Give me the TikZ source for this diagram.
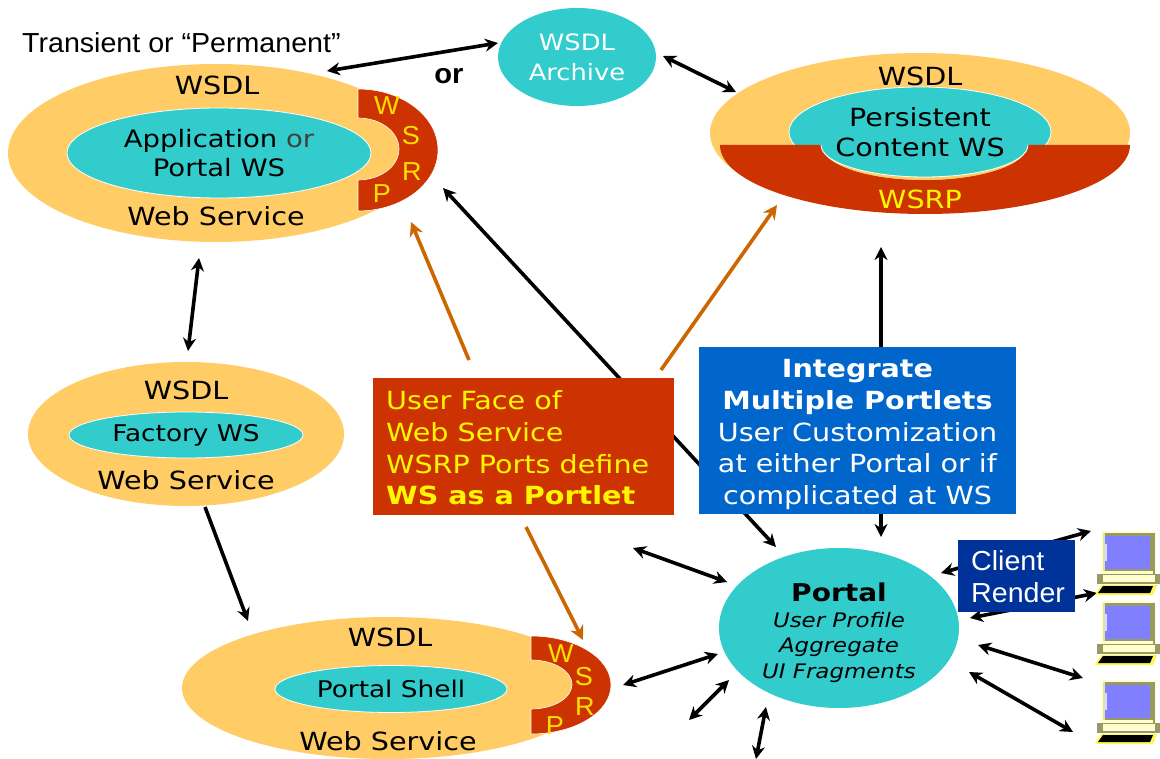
\documentclass[tikz,border=0pt]{standalone}
\usepackage{fontspec}
\setmainfont[FakeStretch=1.145]{DejaVu Sans}
\newfontfamily\arialf[FakeStretch=1.04]{Liberation Sans}
\usetikzlibrary{shapes.geometric,arrows.meta}
\definecolor{wsyellow}{HTML}{FFCC66}
\definecolor{wsteal}{HTML}{33CCCC}
\definecolor{wsred}{HTML}{CC3300}
\definecolor{wsorange}{HTML}{CC6600}
\definecolor{wsblue}{HTML}{0066CC}
\definecolor{wsnavy}{HTML}{003399}
\definecolor{wslett}{HTML}{FFF600}
\definecolor{wsthin}{HTML}{FFE000}
\definecolor{wsscreen}{HTML}{8080FF}
\definecolor{wscase}{HTML}{FFFFCC}
\definecolor{wsedge}{HTML}{999966}
\tikzset{
  x=1pt,y=-1pt,
  outerell/.style={ellipse,fill=wsyellow,inner sep=0pt,outer sep=0pt},
  innerell/.style={ellipse,fill=wsteal,draw=white,line width=0.8pt,inner sep=0pt,outer sep=0pt,align=center,font=\fontsize{24}{29}\selectfont},
  lab/.style={inner sep=0pt,align=center,font=\fontsize{25}{30}\selectfont},
  letter/.style={inner sep=0pt,text=wsthin,font=\arialf\fontsize{26}{28}\selectfont},
  both/.style={line width=3.6pt,{Stealth[length=13pt,width=13pt]}-{Stealth[length=13pt,width=13pt]}},
  one/.style={line width=3.6pt,-{Stealth[length=13pt,width=13pt]}},
  oarrow/.style={line width=3.6pt,wsorange,-{Stealth[length=14pt,width=14pt]}},
  port/.style={fill=wsred,draw=white,line width=0.6pt},
  pics/laptop/.style={code={
    \fill[wscase] (6,0) rectangle (61,45);
    \fill[wsedge] (8,2) rectangle (60,44);
    \fill[wscase!70!wsedge] (8,2) rectangle (10,40);
    \fill[wsscreen] (10,5) rectangle (55,38);
    \fill[white!70!wsscreen] (10,13) rectangle (12,30);
    \fill[wscase] (8,40) rectangle (58,44);
    \fill[wsedge] (2,43) rectangle (65,53);
    \fill[wscase] (8,44) rectangle (60,51);
    \fill[wsedge] (3,45) rectangle (7,49);
    \fill[wslett!70!white] (0,64) -- (6,54) -- (62,54) -- (58,64) -- cycle;
    \fill[black] (3,62) -- (8,55) -- (58,55) -- (55,62) -- cycle;
  }}
}
\begin{document}
\begin{tikzpicture}
\useasboundingbox (0,0) rectangle (1160,759);
\fill[white] (0,0) rectangle (1160,759);

% connector ends
\foreach \n/\xx/\yy in {
 a1/327/71,a2/498/43,b1/663/56,b2/736/92,c1/199/258,c2/188/351,d1/205/507,d2/248/621,
 e1/469/360,e2/411/222,f1/661/370,f2/777/205,g1/526/527,g2/583/640,
 h1/443/188,h2/776/547,i1/881/247,i2/881/537,j1/633/548,j2/727/582,
 k1/623/685,k2/718/654,l1/689/720,l2/729/680,m1/766/707,m2/756/759,
 n1/941/573,n2/1091/531,o1/970/618,o2/1097/593,p1/978/645,p2/1083/678,q1/969/672,q2/1073/732}
 {\coordinate (\n) at (\xx,\yy);}

% arrows that run behind boxes
\draw[both] (h1) -- (h2);
\draw[both] (i1) -- (i2);
\draw[both] (n1) -- (n2);
\draw[both] (o1) -- (o2);

% top-left web service
\node[outerell,minimum width=416pt,minimum height=178pt] (ws1) at (216,153) {};
\node[innerell,minimum width=304pt,minimum height=90pt] (app) at (219,153) {Application {\color{black!75}or}\\Portal WS};
\path[port] (358,89) arc[start angle=-90,end angle=90,x radius=80,y radius=61] -- (358,180) arc[start angle=90,end angle=-90,x radius=41,y radius=31] -- cycle;
\node[lab] (w1) at (217,85) {WSDL};
\node[lab] (s1) at (216,216) {Web Service};
\node[letter] (l1w) at (387,106) {W};
\node[letter] (l1s) at (411,136) {S};
\node[letter] (l1r) at (412,172) {R};
\node[letter] (l1p) at (382,194) {P};

% persistent
\node[outerell,minimum width=420pt,minimum height=160pt] (ws2) at (920,133) {};
\node[innerell,minimum width=262pt,minimum height=90pt] (pers) at (920,132) {};
\path[fill=wsred] (720,145) -- (821,145) arc[start angle=180,end angle=360,x radius=103.5,y radius=-35] -- (1130,145) arc[start angle=0,end angle=180,x radius=205,y radius=69] -- cycle;
\path[fill=wsyellow] (821,145) arc[start angle=180,end angle=360,x radius=103.5,y radius=-35] -- cycle;
\fill[wsteal,draw=white,line width=0.8pt] (821,145) arc[start angle=180,end angle=360,x radius=103.5,y radius=-32] ;
\fill[wsteal] (822,140) rectangle (1027,146);
\node[lab] (w2) at (920,76) {WSDL};
\node[lab] (ptxt) at (920,132) {Persistent\\Content WS};
\node[lab,text=wslett] (wsrp2) at (920,199) {WSRP};

% factory
\node[outerell,minimum width=316pt,minimum height=144pt] (ws3) at (186,434) {};
\node[innerell,minimum width=234pt,minimum height=46pt,font=\fontsize{23}{28}\selectfont] (fac) at (186,435) {Factory WS};
\node[lab] (w3) at (186,390) {WSDL};
\node[lab] (s3) at (186,480) {Web Service};

% portal shell
\node[outerell,minimum width=412pt,minimum height=142pt] (ws4) at (388,688) {};
\node[innerell,minimum width=232pt,minimum height=47pt,font=\fontsize{23}{28}\selectfont] (shell) at (391,689) {Portal Shell};
\path[port] (531,636) arc[start angle=-90,end angle=90,x radius=80,y radius=49] -- (531,709) arc[start angle=90,end angle=-90,x radius=41,y radius=24.5] -- cycle;
\node[lab] (w4) at (390,637) {WSDL};
\node[lab] (s4) at (388,741) {Web Service};
\node[letter] (l4w) at (561,654) {W};
\node[letter] (l4s) at (584,677) {S};
\node[letter] (l4r) at (585,707) {R};
\node[letter] (l4p) at (555,726) {P};

% archive and portal
\node[ellipse,fill=wsteal,inner sep=0pt,outer sep=0pt,minimum width=158pt,minimum height=98pt,align=center,text=white,font=\fontsize{22.5}{30}\selectfont] (arch) at (577,57) {WSDL\\Archive};
\node[ellipse,fill=wsteal,inner sep=0pt,outer sep=0pt,minimum width=240pt,minimum height=160pt] (portal) at (839,628) {};
\node[inner sep=0pt,align=center,font=\fontsize{20}{25.5}\selectfont\itshape] (ptl) at (839,633)
 {{\fontsize{24.5}{26}\selectfont\upshape\bfseries Portal}\\User Profile\\Aggregate\\UI Fragments};

% boxes
\node[fill=wsred,minimum width=301pt,minimum height=137pt,inner sep=0pt,outer sep=0pt] (ubox) at (523.5,446.5) {};
\node[anchor=west,inner sep=0pt,align=left,text=wslett,font=\fontsize{25}{31.7}\selectfont] (utxt) at (386,448) {User Face of\\Web Service\\WSRP Ports define\\\textbf{WS as a Portlet}};
\node[fill=wsblue,minimum width=317pt,minimum height=167pt,inner sep=0pt,outer sep=0pt] (ibox) at (857.5,430.5) {};
\node[inner sep=0pt,align=center,text=white,font=\fontsize{25}{31.8}\selectfont] (itxt) at (857.5,434.5) {\textbf{Integrate}\\\textbf{Multiple Portlets}\\User Customization\\at either Portal or if\\complicated at WS};
\node[fill=wsnavy,minimum width=117pt,minimum height=72pt,inner sep=0pt,outer sep=0pt] (cbox) at (1016.5,576) {};
\node[anchor=west,inner sep=0pt,align=left,text=white,font=\arialf\fontsize{27.5}{32}\selectfont] (ctxt) at (971,577) {Client\\Render};

% top label
\node[anchor=west,inner sep=0pt,font=\arialf\fontsize{27.5}{30}\selectfont] (trans) at (22,43) {Transient or “Permanent”};
\node[inner sep=0pt,font=\arialf\bfseries\fontsize{28}{30}\selectfont] (ortxt) at (449,76) {or};

% arrows
\draw[both] (a1) -- (a2);
\draw[both] (b1) -- (b2);
\draw[both] (c1) -- (c2);
\draw[one] (d1) -- (d2);
\draw[both] (j1) -- (j2);
\draw[both] (k1) -- (k2);
\draw[both] (l1) -- (l2);
\draw[both] (m1) -- (m2);
\draw[both] (p1) -- (p2);
\draw[both] (q1) -- (q2);
\draw[oarrow] (e1) -- (e2);
\draw[oarrow] (f1) -- (f2);
\draw[oarrow] (g1) -- (g2);

% computers
\pic (pc1) at (1095,531) {laptop};
\pic (pc2) at (1095,601) {laptop};
\pic (pc3) at (1095,680) {laptop};
\end{tikzpicture}
\end{document}
